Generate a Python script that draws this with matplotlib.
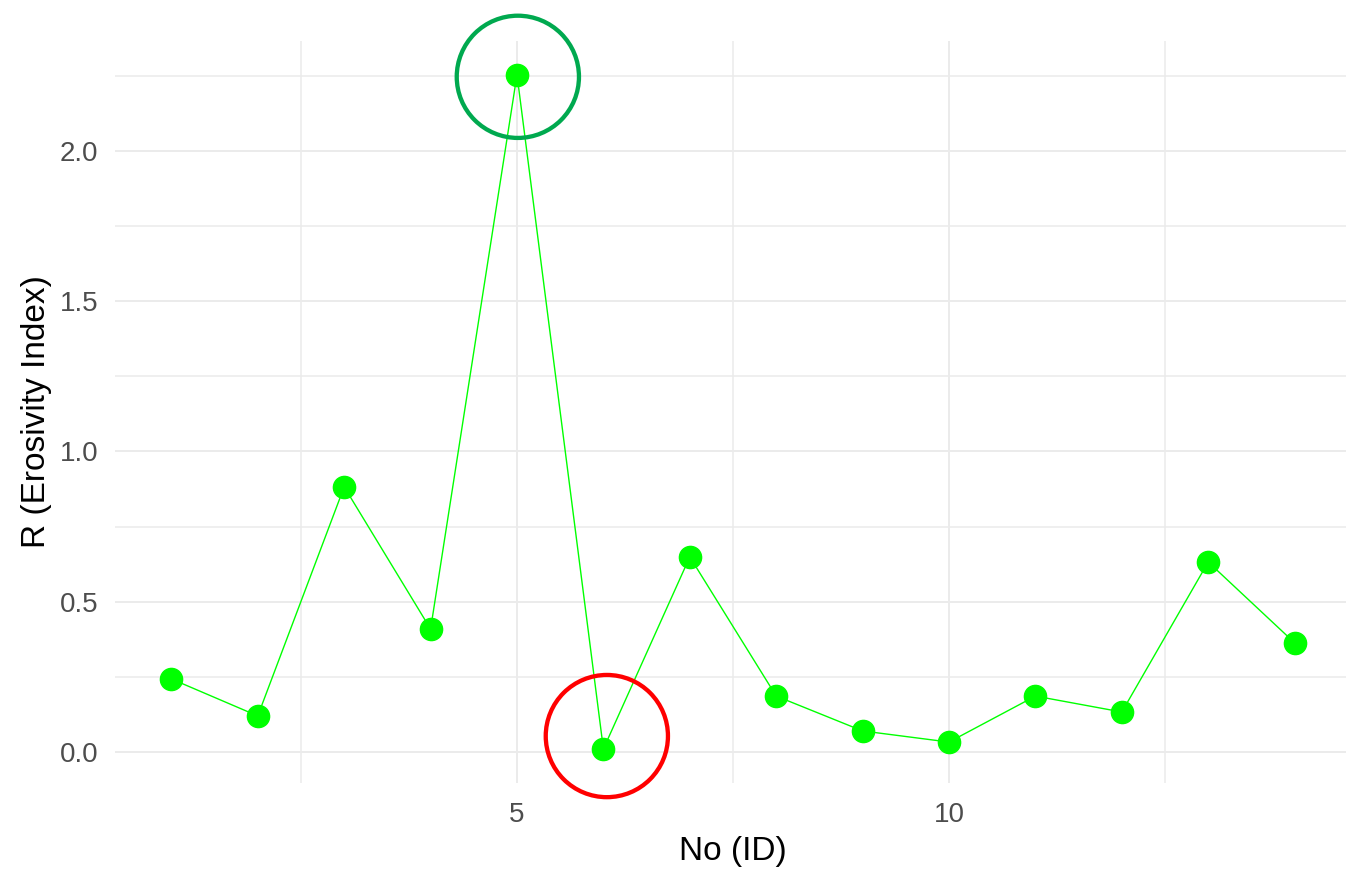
import matplotlib
matplotlib.use("Agg")
import matplotlib.pyplot as plt
from matplotlib.ticker import FixedLocator

ids = list(range(1, 15))
r_values = [0.243, 0.12, 0.882, 0.409, 2.253, 0.01, 0.649, 0.186, 0.07, 0.033, 0.186, 0.133, 0.632, 0.363]
x_ticks = [5, 10]
y_ticks = [0.0, 0.5, 1.0, 1.5, 2.0]
highlight_max = (5.01, 2.246)
highlight_min = (6.04, 0.053)

plt.rcParams['font.family'] = ['Liberation Sans', 'DejaVu Sans']

W, H = 1346, 873
fig = plt.figure(figsize=(W / 100, H / 100), dpi=100)
left, right, top, bottom = 115.2, 1350.8, 41.0, 782.7
ax = fig.add_axes([left / W, 1 - bottom / H, (right - left) / W, (bottom - top) / H])

ax.plot(ids, r_values, color='#00FF00', lw=1.0, zorder=3)
ax.plot(ids, r_values, 'o', color='#00FF00', ms=16, zorder=4)

for (cx, cy), col in [(highlight_max, '#00A94F'), (highlight_min, '#FF0000')]:
    ax.scatter([cx], [cy], s=88 ** 2, facecolors='none', edgecolors=col,
               linewidths=3.1, zorder=5, clip_on=False)

xmin, xmax = 1, 14
ax.set_xlim(xmin - 0.05 * 13, xmax + 0.05 * 13)
ymin, ymax = min(r_values), max(r_values)
rng = ymax - ymin
ax.set_ylim(ymin - 0.05 * rng, ymax + 0.05 * rng)

ax.xaxis.set_major_locator(FixedLocator(x_ticks))
ax.xaxis.set_minor_locator(FixedLocator([2.5, 7.5, 12.5]))
ax.yaxis.set_major_locator(FixedLocator(y_ticks))
ax.yaxis.set_minor_locator(FixedLocator([0.25, 0.75, 1.25, 1.75, 2.25]))
ax.set_yticklabels([f"{v:.1f}" for v in y_ticks])

ax.grid(True, which='major', color='#EBEBEB', lw=1.4)
ax.grid(True, which='minor', color='#EBEBEB', lw=1.1)
ax.set_axisbelow(True)
for s in ax.spines.values():
    s.set_visible(False)
ax.tick_params(which='both', length=0)
ax.tick_params(axis='both', labelsize=20, labelcolor='#4D4D4D')
ax.tick_params(axis='x', pad=14)
ax.tick_params(axis='y', pad=12)

ax.set_xlabel('No (ID)', fontsize=24, color='black', labelpad=6)
ax.set_ylabel('R (Erosivity Index)', fontsize=24, color='black', labelpad=6)

fig.savefig('out.png', dpi=100)
